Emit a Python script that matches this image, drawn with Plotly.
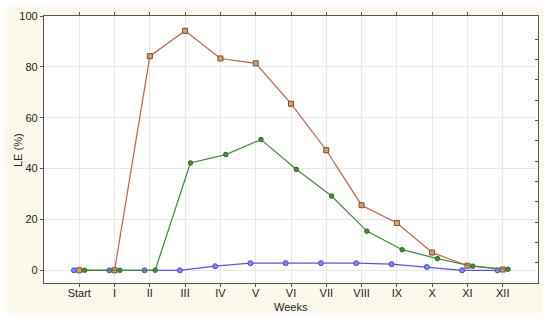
import plotly.graph_objects as go

weeks = ["Start", "I", "II", "III", "IV", "V", "VI", "VII", "VIII", "IX", "X", "XI", "XII"]
blue_vals = [0, 0, 0, 0, 1.6, 2.8, 2.8, 2.8, 2.8, 2.4, 1.3, 0, 0]
red_vals = [0, 0, 84.2, 94.2, 83.3, 81.4, 65.5, 47.2, 25.6, 18.6, 7.0, 1.8, 0.3]
green_vals = [0, 0, 0, 42.2, 45.5, 51.4, 39.7, 29.2, 15.4, 8.1, 4.6, 1.6, 0.4]
red_err = [0.4, 0.4, 0.8, 0.8, 0.8, 0.8, 0.8, 0.8, 0.8, 0.8, 0.8, 0.6, 0.4]
green_err = [0.3, 0.3, 0.3, 0.6, 0.6, 0.6, 0.6, 0.6, 0.6, 0.6, 0.6, 0.5, 0.3]
y_ticks = [0, 20, 40, 60, 80, 100]

idx = list(range(len(weeks)))
off = 0.15

fig = go.Figure()
fig.add_trace(go.Scatter(
    x=[i - off for i in idx], y=blue_vals, mode="lines+markers",
    line=dict(color="#5a55e6", width=1.2),
    marker=dict(symbol="circle", size=5, color="#8a86f5", line=dict(color="#4b45d8", width=1)),
    showlegend=False))
fig.add_trace(go.Scatter(
    x=idx, y=red_vals, mode="lines+markers",
    line=dict(color="#b8644a", width=1.2),
    marker=dict(symbol="square", size=5, color="#c9a76a", line=dict(color="#8a4a30", width=1)),
    error_y=dict(type="data", array=red_err, visible=True, color="#8a4a30", thickness=1, width=2),
    showlegend=False))
fig.add_trace(go.Scatter(
    x=[i + off for i in idx], y=green_vals, mode="lines+markers",
    line=dict(color="#3f8a3a", width=1.2),
    marker=dict(symbol="circle", size=4.5, color="#4f8a3a", line=dict(color="#2f6a2a", width=1)),
    error_y=dict(type="data", array=green_err, visible=True, color="#2f6a2a", thickness=1, width=1.5),
    showlegend=False))

# right-side inner ticks (secondary axis for decoration)
fig.add_trace(go.Scatter(x=[0], y=[0], yaxis="y2", mode="markers",
                         marker=dict(opacity=0), showlegend=False, hoverinfo="skip"))

font = dict(family="Liberation Sans, Arial, sans-serif", size=11, color="#222222")

W, H = 494, 267  # plot area size in px
def px_x(p):
    return (p - 44) / W
def px_y(p):
    return (283 - p) / H

white = dict(fillcolor="white", line=dict(width=0), layer="below", type="rect",
             xref="paper", yref="paper")
shapes = [
    dict(white, x0=px_x(0), x1=px_x(550), y0=px_y(7), y1=px_y(0)),
    dict(white, x0=px_x(0), x1=px_x(550), y0=px_y(323), y1=px_y(313)),
    dict(white, x0=px_x(0), x1=px_x(4), y0=px_y(323), y1=px_y(0)),
    dict(white, x0=px_x(543), x1=px_x(550), y0=px_y(323), y1=px_y(0)),
]

annotations = [
    dict(text="Weeks", xref="paper", yref="paper", x=px_x(291), y=px_y(307),
         showarrow=False, xanchor="center", yanchor="middle", font=dict(size=11)),
    dict(text="LE (%)", xref="paper", yref="paper", x=px_x(18), y=px_y(150),
         showarrow=False, xanchor="center", yanchor="middle", textangle=-90,
         font=dict(size=11)),
]

fig.update_layout(
    width=550, height=323,
    margin=dict(l=44, r=12, t=16, b=40, autoexpand=False),
    paper_bgcolor="#fdf8ec",
    plot_bgcolor="white",
    font=font,
    shapes=shapes,
    annotations=annotations,
    xaxis=dict(
        range=[-1, 13], tickmode="array", tickvals=idx, ticktext=weeks,
        showgrid=True, gridcolor="#e8e8e8", gridwidth=1, automargin=False,
        zeroline=False, showline=True, linecolor="#555555", linewidth=1.2,
        mirror="ticks", ticks="outside", ticklen=3, tickcolor="#555555",
        ticklabelstandoff=-3,
    ),
    yaxis=dict(
        range=[-5, 100], tickmode="array", tickvals=y_ticks,
        showgrid=True, gridcolor="#e8e8e8", gridwidth=1, automargin=False,
        zeroline=False, showline=True, linecolor="#555555", linewidth=1.2,
        mirror=True, ticks="outside", ticklen=3, tickcolor="#555555",
    ),
    yaxis2=dict(
        overlaying="y", side="right", range=[-5, 100], automargin=False,
        tickmode="array", tickvals=[2.9 + 8 * k for k in range(12)],
        ticks="inside", ticklen=3, tickcolor="#555555", showticklabels=False,
        showgrid=False, zeroline=False, showline=False,
    ),
)

fig.write_html("out.html", config={"displayModeBar": False},
               post_script="document.body.style.margin='0';document.body.style.overflow='hidden';")
